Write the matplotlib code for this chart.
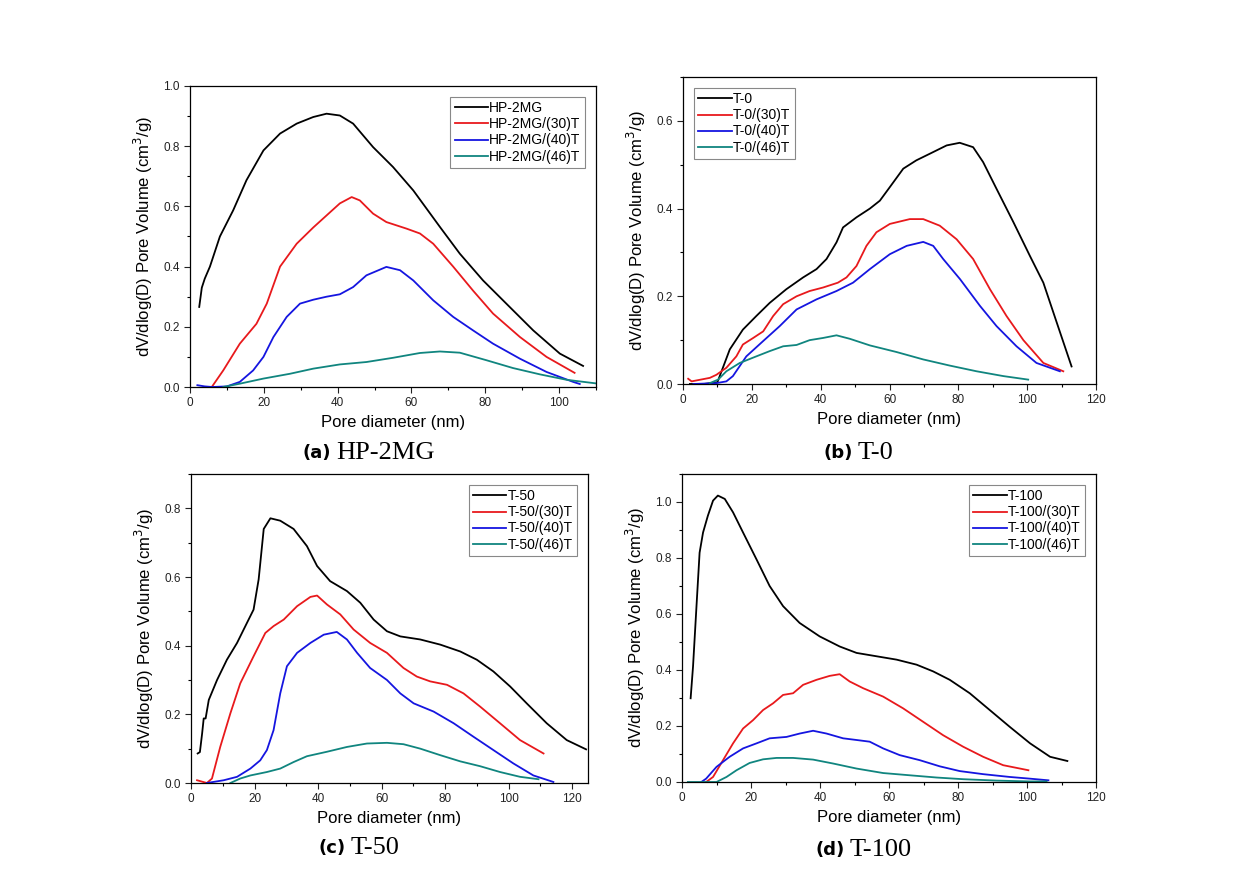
import matplotlib.pyplot as plt
from matplotlib.ticker import MultipleLocator

# ---- (a) HP-2MG ----
a_hp_x = [2.5, 3.2, 4, 5.4, 8.1, 11.7, 15.3, 19.9, 24.4, 28.9, 33.4, 37, 40.6, 44.2, 49.6, 55, 60.5,
          67.7, 73.1, 79.4, 85.7, 93, 100.2, 106.5]
a_hp_y = [0.266, 0.33, 0.36, 0.40, 0.50, 0.587, 0.687, 0.786, 0.842, 0.875, 0.897, 0.908, 0.902, 0.875,
          0.797, 0.731, 0.653, 0.532, 0.443, 0.354, 0.277, 0.188, 0.111, 0.07]
a_30_x = [5.9, 9, 13.5, 18, 20.8, 24.4, 28.9, 33.4, 37, 40.6, 43.8, 46, 49.6, 53.2, 58.7, 62.3, 65.9,
          71.3, 76.7, 82.1, 89.4, 96.6, 104.2]
a_30_y = [0.0, 0.055, 0.144, 0.21, 0.277, 0.40, 0.476, 0.53, 0.57, 0.61, 0.631, 0.62, 0.576, 0.548,
          0.526, 0.51, 0.476, 0.40, 0.32, 0.244, 0.166, 0.10, 0.047]
a_40_x = [2, 4, 6, 10, 13.5, 17.1, 19.9, 22.6, 26.2, 29.8, 33.4, 37, 40.6, 44.2, 47.8, 53.2, 56.9,
          60.5, 65.9, 71.3, 76.7, 82.1, 89.4, 96.6, 103.8, 105.6]
a_40_y = [0.006, 0.002, 0.0, 0.002, 0.017, 0.055, 0.10, 0.166, 0.233, 0.277, 0.29, 0.30, 0.308, 0.332,
          0.371, 0.399, 0.388, 0.354, 0.288, 0.233, 0.188, 0.144, 0.094, 0.05, 0.017, 0.01]
a_46_x = [9, 13.5, 19.9, 27.1, 33.4, 40.6, 47.8, 55, 62.3, 67.7, 73.1, 80.3, 87.5, 94.8, 102, 110]
a_46_y = [0.0, 0.011, 0.028, 0.044, 0.061, 0.075, 0.083, 0.097, 0.113, 0.118, 0.114, 0.089, 0.063,
          0.042, 0.024, 0.012]

# ---- (b) T-0 ----
b_t0_x = [2, 6, 10, 13.6, 17.4, 21.3, 25.2, 30, 34.9, 38.8, 41.7, 44.6, 46.5, 50.4, 54.3, 57.2, 60.1,
          64, 67.8, 71.7, 76.6, 80.4, 84.3, 87.2, 91.1, 96, 100.8, 104.7, 108.6, 112.9]
b_t0_y = [0.0, 0.0, 0.004, 0.079, 0.124, 0.155, 0.185, 0.216, 0.243, 0.262, 0.285, 0.323, 0.357, 0.38,
          0.40, 0.418, 0.449, 0.491, 0.51, 0.525, 0.544, 0.55, 0.54, 0.506, 0.445, 0.369, 0.292, 0.231,
          0.14, 0.04]
b_30_x = [1.5, 2.5, 7.8, 9.7, 12.6, 15.5, 17.4, 20.4, 23.3, 26.2, 29.1, 33, 36.8, 40.7, 45, 47.5, 50.4,
          53.3, 56.2, 60.1, 65.9, 69.8, 74.6, 79.5, 84.3, 89.2, 94, 98.9, 104.7, 110.5]
b_30_y = [0.012, 0.006, 0.014, 0.021, 0.037, 0.063, 0.09, 0.105, 0.12, 0.155, 0.182, 0.20, 0.212, 0.22,
          0.231, 0.243, 0.269, 0.315, 0.346, 0.365, 0.376, 0.376, 0.361, 0.33, 0.285, 0.216, 0.155, 0.10,
          0.048, 0.029]
b_40_x = [3, 9.7, 12.6, 14.5, 18.4, 23.3, 28.1, 33, 38.8, 44.6, 49.4, 54.3, 60.1, 65, 69.8, 72.7, 75.6,
          80.5, 86.3, 91.1, 96.9, 102.7, 109.5]
b_40_y = [0.0, 0.002, 0.006, 0.018, 0.063, 0.098, 0.132, 0.17, 0.193, 0.212, 0.231, 0.262, 0.296, 0.315,
          0.324, 0.315, 0.285, 0.239, 0.178, 0.132, 0.086, 0.048, 0.029]
b_46_x = [7.8, 10.2, 12.6, 16.5, 21.3, 25.2, 29.1, 33, 36.8, 40.7, 44.6, 48.5, 54.3, 62, 69.8, 77.5,
          85.3, 93.1, 100.3]
b_46_y = [0.002, 0.01, 0.029, 0.048, 0.063, 0.075, 0.086, 0.089, 0.10, 0.105, 0.111, 0.103, 0.088, 0.073,
          0.056, 0.042, 0.029, 0.018, 0.01]

# ---- (c) T-50 ----
c_t50_x = [2.1, 2.8, 3.5, 4, 4.6, 5.6, 8.2, 11.3, 14.5, 17.6, 19.7, 21.3, 22.9, 25, 28.1, 32.3, 36.5,
           39.7, 43.8, 49.1, 53.3, 57.5, 61.7, 65.9, 72.2, 78.5, 84.8, 90, 95.2, 100.5, 105.7, 112,
           118.3, 124.4]
c_t50_y = [0.086, 0.09, 0.144, 0.188, 0.188, 0.242, 0.30, 0.359, 0.408, 0.466, 0.505, 0.593, 0.74, 0.771,
           0.764, 0.74, 0.69, 0.632, 0.588, 0.559, 0.525, 0.476, 0.442, 0.427, 0.418, 0.403, 0.383,
           0.359, 0.325, 0.281, 0.232, 0.174, 0.125, 0.098]
c_30_x = [1.9, 5, 6.6, 9.2, 12.4, 15.5, 19.7, 23.4, 26, 29.2, 33.4, 37.6, 39.7, 42.8, 47, 51.2, 56.4,
          61.7, 66.9, 71.1, 75.3, 80.6, 85.8, 91.1, 97.3, 103.6, 111]
c_30_y = [0.008, 0.0, 0.013, 0.105, 0.203, 0.29, 0.369, 0.437, 0.457, 0.476, 0.515, 0.542, 0.546, 0.52,
          0.491, 0.447, 0.408, 0.379, 0.335, 0.31, 0.296, 0.286, 0.261, 0.222, 0.174, 0.125, 0.086]
c_40_x = [5, 10.3, 14.5, 18.7, 21.8, 23.9, 26, 28.1, 30.2, 33.4, 37.6, 41.8, 45.9, 49.1, 52.3, 56.4,
          61.7, 65.9, 70.1, 76.4, 82.7, 88.9, 95.2, 101.5, 107.8, 114.1]
c_40_y = [0.0, 0.008, 0.018, 0.042, 0.066, 0.096, 0.154, 0.261, 0.34, 0.379, 0.408, 0.432, 0.44, 0.418,
          0.379, 0.335, 0.30, 0.261, 0.232, 0.208, 0.174, 0.135, 0.096, 0.057, 0.022, 0.003]
c_46_x = [12.4, 15.5, 18.7, 23.9, 28.1, 32.3, 36.5, 42.8, 49.1, 55.4, 61.7, 66.9, 72.2, 78.5, 84.8, 91,
          97.3, 103.6, 109.4]
c_46_y = [0.0, 0.013, 0.022, 0.032, 0.042, 0.061, 0.078, 0.091, 0.105, 0.115, 0.117, 0.113, 0.10, 0.081,
          0.063, 0.049, 0.032, 0.018, 0.011]

# ---- (d) T-100 ----
d_t100_x = [2.5, 3.2, 4.2, 5.1, 6.1, 7.5, 9, 10.4, 12.4, 14.8, 17.7, 21.6, 25.4, 29.3, 34.1, 39.9, 45.7,
            50.6, 56.4, 62.2, 68, 72.8, 77.6, 83.4, 89.2, 95, 100.9, 106.7, 111.7]
d_t100_y = [0.299, 0.413, 0.628, 0.819, 0.891, 0.951, 1.005, 1.023, 1.011, 0.963, 0.891, 0.795, 0.70,
            0.628, 0.568, 0.52, 0.484, 0.461, 0.449, 0.437, 0.419, 0.395, 0.365, 0.317, 0.257, 0.197,
            0.138, 0.09, 0.075]
d_30_x = [7, 9, 11.9, 14.8, 17.7, 20.6, 23.5, 26.4, 29.3, 32.2, 35.1, 39, 42.8, 45.7, 48.6, 52.5, 58.3,
          64.1, 69.9, 75.7, 81.5, 87.3, 93.1, 100.4]
d_30_y = [0.0, 0.018, 0.078, 0.138, 0.191, 0.221, 0.257, 0.281, 0.311, 0.317, 0.347, 0.365, 0.379,
          0.385, 0.359, 0.335, 0.305, 0.263, 0.215, 0.167, 0.126, 0.09, 0.06, 0.042]
d_40_x = [5.6, 7, 10, 13.8, 17.7, 21.6, 25.4, 30.3, 34.1, 38, 41.9, 46.7, 50.6, 54.4, 58.3, 63.1, 68.9,
          74.7, 80.5, 87.3, 95, 100.8, 106.2]
d_40_y = [0.0, 0.012, 0.054, 0.09, 0.12, 0.138, 0.156, 0.161, 0.173, 0.183, 0.173, 0.156, 0.15, 0.144,
          0.12, 0.096, 0.078, 0.056, 0.039, 0.028, 0.018, 0.012, 0.006]
d_46_x = [1.7, 10, 12.9, 15.8, 19.6, 23.5, 27.4, 32.2, 38, 43.8, 50.6, 58.3, 66, 73.8, 81.5, 91.2,
          100.8, 105.7]
d_46_y = [0.0, 0.0, 0.018, 0.042, 0.068, 0.081, 0.086, 0.086, 0.08, 0.066, 0.048, 0.032, 0.024, 0.016,
          0.01, 0.005, 0.002, 0.002]

colors = ['#000000', '#e8191c', '#1515e0', '#10857f']

panels = [
    # rect, xlim, ylim, series, labels, legend loc, caption letter, caption name, caption pos
    ([190, 596, 86, 387], 110, 1.0,
     [(a_hp_x, a_hp_y), (a_30_x, a_30_y), (a_40_x, a_40_y), (a_46_x, a_46_y)],
     ['HP-2MG', 'HP-2MG/(30)T', 'HP-2MG/(40)T', 'HP-2MG/(46)T'], 'upper right',
     '(a)', 'HP-2MG', (331, 453)),
    ([683, 1096, 77, 384], 120, 0.7,
     [(b_t0_x, b_t0_y), (b_30_x, b_30_y), (b_40_x, b_40_y), (b_46_x, b_46_y)],
     ['T-0', 'T-0/(30)T', 'T-0/(40)T', 'T-0/(46)T'], 'upper left',
     '(b)', 'T-0', (853, 453)),
    ([191, 588, 474, 783], 125, 0.9,
     [(c_t50_x, c_t50_y), (c_30_x, c_30_y), (c_40_x, c_40_y), (c_46_x, c_46_y)],
     ['T-50', 'T-50/(30)T', 'T-50/(40)T', 'T-50/(46)T'], 'upper right',
     '(c)', 'T-50', (346, 848)),
    ([682, 1096, 474, 782], 120, 1.1,
     [(d_t100_x, d_t100_y), (d_30_x, d_30_y), (d_40_x, d_40_y), (d_46_x, d_46_y)],
     ['T-100', 'T-100/(30)T', 'T-100/(40)T', 'T-100/(46)T'], 'upper right',
     '(d)', 'T-100', (845, 850)),
]

W, H = 1240, 885
plt.rcParams['font.family'] = ['Liberation Sans', 'DejaVu Sans']
fig = plt.figure(figsize=(W / 100, H / 100), dpi=100)

for rect, xmax, ymax, series, labels, loc, letter, name, cpos in panels:
    l, r, t, b = rect
    ax = fig.add_axes([l / W, 1 - b / H, (r - l) / W, (b - t) / H])
    for (x, y), lab, c in zip(series, labels, colors):
        ax.plot(x, y, color=c, lw=1.3, label=lab)
    ax.set_xlim(0, xmax)
    ax.set_ylim(0, ymax)
    ax.xaxis.set_major_locator(MultipleLocator(20))
    ax.xaxis.set_minor_locator(MultipleLocator(10))
    ax.yaxis.set_major_locator(MultipleLocator(0.2))
    ax.yaxis.set_minor_locator(MultipleLocator(0.1))
    ax.yaxis.set_major_formatter(plt.FormatStrFormatter('%.1f'))
    ax.tick_params(which='major', direction='out', length=4, width=0.8, labelsize=8.5, colors='#222222')
    ax.tick_params(which='minor', direction='out', length=2.5, width=0.8)
    for s in ax.spines.values():
        s.set_linewidth(0.9)
    ax.set_xlabel('Pore diameter (nm)', fontsize=12, labelpad=4)
    ax.set_ylabel('dV/dlog(D) Pore Volume (cm$^3$/g)', fontsize=12, labelpad=6)
    leg = ax.legend(loc=loc, fontsize=10, handlelength=2.4, handletextpad=0.1, labelspacing=0.15,
                    borderpad=0.3, fancybox=False, framealpha=1, borderaxespad=0.8)
    leg.get_frame().set_edgecolor('#888888')
    leg.get_frame().set_linewidth(0.8)
    fig.text(cpos[0] / W, 1 - cpos[1] / H, letter, fontsize=13, fontweight='bold',
             family='DejaVu Sans', ha='right', va='center')
    fig.text((cpos[0] + 5) / W, 1 - cpos[1] / H, name, fontsize=19, family='Liberation Serif',
             ha='left', va='center')

fig.savefig('out.png', dpi=100)
